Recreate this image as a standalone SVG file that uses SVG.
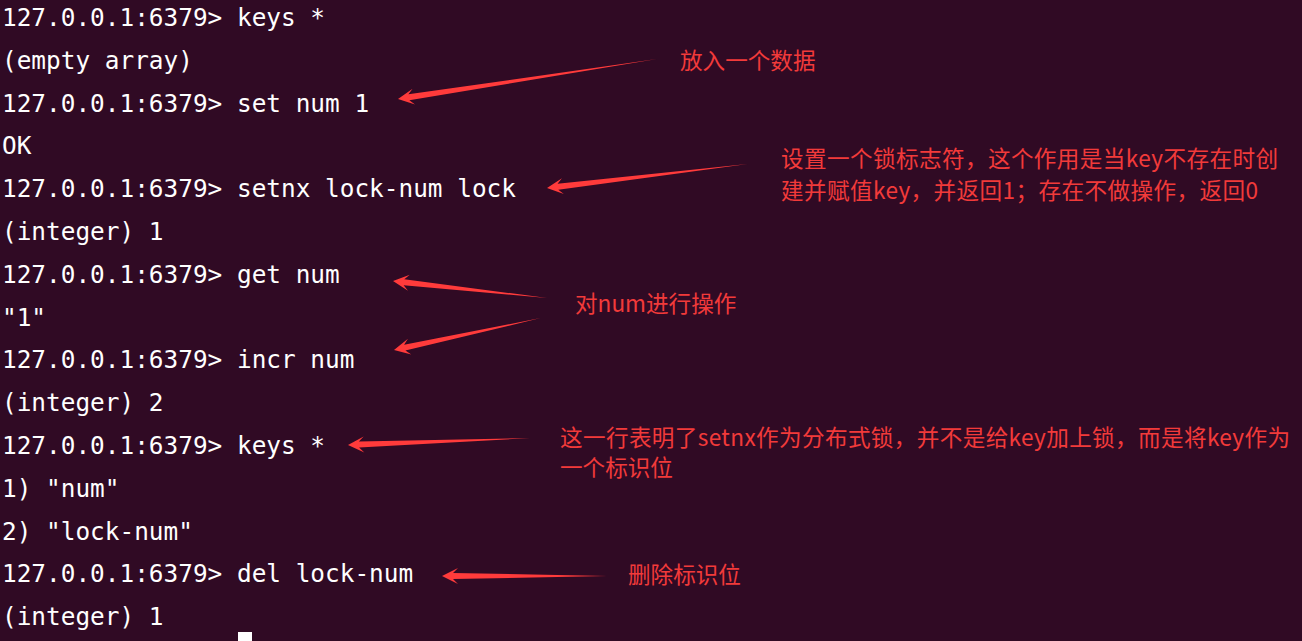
<svg xmlns="http://www.w3.org/2000/svg" width="1302" height="641" viewBox="0 0 1302 641">
<defs>
<style>
.term{font-family:"DejaVu Sans Mono","Liberation Mono",monospace;font-size:24.4px;fill:#FFFFFF;}
.note{font-family:"Noto Sans CJK SC","Noto Sans",sans-serif;font-size:22.6px;fill:#F23A3A;}
.arr{fill:#FF3B3B;}
</style>
</defs>
<rect x="0" y="0" width="1302" height="641" fill="#300A24"/>
<g id="terminal" class="term">
<text x="2" y="26">127.0.0.1:6379&gt; keys *</text>
<text x="2" y="68.8">(empty array)</text>
<text x="2" y="111.6">127.0.0.1:6379&gt; set num 1</text>
<text x="2" y="154.4">OK</text>
<text x="2" y="197.2">127.0.0.1:6379&gt; setnx lock-num lock</text>
<text x="2" y="240">(integer) 1</text>
<text x="2" y="282.8">127.0.0.1:6379&gt; get num</text>
<text x="2" y="325.6">"1"</text>
<text x="2" y="368.4">127.0.0.1:6379&gt; incr num</text>
<text x="2" y="411.2">(integer) 2</text>
<text x="2" y="454">127.0.0.1:6379&gt; keys *</text>
<text x="2" y="496.8">1) "num"</text>
<text x="2" y="539.6">2) "lock-num"</text>
<text x="2" y="582.4">127.0.0.1:6379&gt; del lock-num</text>
<text x="2" y="625.2">(integer) 1</text>
<rect x="238" y="632" width="14" height="9" fill="#FFFFFF"/>
</g>
<g id="connectors" class="arr">
<polygon transform="translate(398,99) rotate(-8.78)" points="0,0 16,-8 11,-3 262,0 11,3 16,8"/>
<polygon transform="translate(547,188) rotate(-6.81)" points="0,0 16,-8 11,-3 202,0 11,3 16,8"/>
<polygon transform="translate(393,281) rotate(6.30)" points="0,0 16,-8 11,-3 155,0 11,3 16,8"/>
<polygon transform="translate(394,350) rotate(-12.28)" points="0,0 16,-8 11,-3 150,0 11,3 16,8"/>
<polygon transform="translate(348,445) rotate(-2.20)" points="0,0 16,-8 11,-3 182,0 11,3 16,8"/>
<polygon transform="translate(442,576) rotate(0)" points="0,0 16,-8 11,-3 165,0 11,3 16,8"/>
</g>
<g id="note-set" class="note">
<text x="680" y="68.5">放入一个数据</text>
</g>
<g id="note-setnx" class="note">
<text x="781" y="167" textLength="497">设置一个锁标志符，这个作用是当key不存在时创</text>
<text x="781" y="199" textLength="477">建并赋值key，并返回1；存在不做操作，返回0</text>
</g>
<g id="note-num" class="note">
<text x="575" y="312">对num进行操作</text>
</g>
<g id="note-keys" class="note">
<text x="560" y="446" textLength="730">这一行表明了setnx作为分布式锁，并不是给key加上锁，而是将key作为</text>
<text x="560" y="476">一个标识位</text>
</g>
<g id="note-del" class="note">
<text x="628" y="583">删除标识位</text>
</g>
</svg>
